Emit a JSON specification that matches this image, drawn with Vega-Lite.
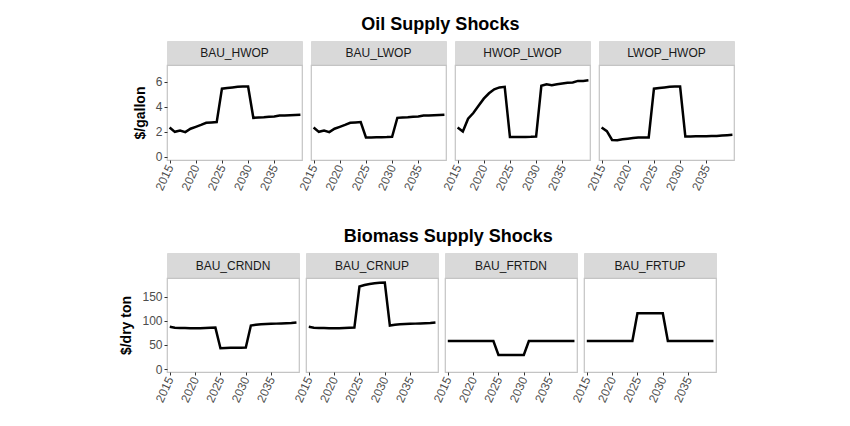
{
  "$schema": "https://vega.github.io/schema/vega-lite/v6.json",
  "background": "white",
  "padding": {"left": 119, "top": 15, "right": 5, "bottom": 5},
  "datasets": {
    "oil": [
      {"scenario": "BAU_HWOP", "year": 2015, "price": 2.35}, {"scenario": "BAU_HWOP", "year": 2016, "price": 2.0}, {"scenario": "BAU_HWOP", "year": 2017, "price": 2.1}, {"scenario": "BAU_HWOP", "year": 2018, "price": 1.98}, {"scenario": "BAU_HWOP", "year": 2019, "price": 2.25}, {"scenario": "BAU_HWOP", "year": 2020, "price": 2.4}, {"scenario": "BAU_HWOP", "year": 2021, "price": 2.55}, {"scenario": "BAU_HWOP", "year": 2022, "price": 2.72}, {"scenario": "BAU_HWOP", "year": 2023, "price": 2.75}, {"scenario": "BAU_HWOP", "year": 2024, "price": 2.78}, {"scenario": "BAU_HWOP", "year": 2025, "price": 5.45}, {"scenario": "BAU_HWOP", "year": 2026, "price": 5.5}, {"scenario": "BAU_HWOP", "year": 2027, "price": 5.55}, {"scenario": "BAU_HWOP", "year": 2028, "price": 5.6}, {"scenario": "BAU_HWOP", "year": 2029, "price": 5.62}, {"scenario": "BAU_HWOP", "year": 2030, "price": 5.62}, {"scenario": "BAU_HWOP", "year": 2031, "price": 3.12}, {"scenario": "BAU_HWOP", "year": 2032, "price": 3.15}, {"scenario": "BAU_HWOP", "year": 2033, "price": 3.17}, {"scenario": "BAU_HWOP", "year": 2034, "price": 3.2}, {"scenario": "BAU_HWOP", "year": 2035, "price": 3.22}, {"scenario": "BAU_HWOP", "year": 2036, "price": 3.3}, {"scenario": "BAU_HWOP", "year": 2037, "price": 3.3}, {"scenario": "BAU_HWOP", "year": 2038, "price": 3.32}, {"scenario": "BAU_HWOP", "year": 2039, "price": 3.34}, {"scenario": "BAU_HWOP", "year": 2040, "price": 3.36},
      {"scenario": "BAU_LWOP", "year": 2015, "price": 2.35}, {"scenario": "BAU_LWOP", "year": 2016, "price": 2.0}, {"scenario": "BAU_LWOP", "year": 2017, "price": 2.1}, {"scenario": "BAU_LWOP", "year": 2018, "price": 1.98}, {"scenario": "BAU_LWOP", "year": 2019, "price": 2.25}, {"scenario": "BAU_LWOP", "year": 2020, "price": 2.4}, {"scenario": "BAU_LWOP", "year": 2021, "price": 2.55}, {"scenario": "BAU_LWOP", "year": 2022, "price": 2.72}, {"scenario": "BAU_LWOP", "year": 2023, "price": 2.75}, {"scenario": "BAU_LWOP", "year": 2024, "price": 2.78}, {"scenario": "BAU_LWOP", "year": 2025, "price": 1.55}, {"scenario": "BAU_LWOP", "year": 2026, "price": 1.55}, {"scenario": "BAU_LWOP", "year": 2027, "price": 1.56}, {"scenario": "BAU_LWOP", "year": 2028, "price": 1.57}, {"scenario": "BAU_LWOP", "year": 2029, "price": 1.58}, {"scenario": "BAU_LWOP", "year": 2030, "price": 1.6}, {"scenario": "BAU_LWOP", "year": 2031, "price": 3.12}, {"scenario": "BAU_LWOP", "year": 2032, "price": 3.15}, {"scenario": "BAU_LWOP", "year": 2033, "price": 3.17}, {"scenario": "BAU_LWOP", "year": 2034, "price": 3.2}, {"scenario": "BAU_LWOP", "year": 2035, "price": 3.22}, {"scenario": "BAU_LWOP", "year": 2036, "price": 3.3}, {"scenario": "BAU_LWOP", "year": 2037, "price": 3.3}, {"scenario": "BAU_LWOP", "year": 2038, "price": 3.32}, {"scenario": "BAU_LWOP", "year": 2039, "price": 3.34}, {"scenario": "BAU_LWOP", "year": 2040, "price": 3.36},
      {"scenario": "HWOP_LWOP", "year": 2015, "price": 2.35}, {"scenario": "HWOP_LWOP", "year": 2016, "price": 2.03}, {"scenario": "HWOP_LWOP", "year": 2017, "price": 3.05}, {"scenario": "HWOP_LWOP", "year": 2018, "price": 3.5}, {"scenario": "HWOP_LWOP", "year": 2019, "price": 4.08}, {"scenario": "HWOP_LWOP", "year": 2020, "price": 4.65}, {"scenario": "HWOP_LWOP", "year": 2021, "price": 5.08}, {"scenario": "HWOP_LWOP", "year": 2022, "price": 5.4}, {"scenario": "HWOP_LWOP", "year": 2023, "price": 5.55}, {"scenario": "HWOP_LWOP", "year": 2024, "price": 5.6}, {"scenario": "HWOP_LWOP", "year": 2025, "price": 1.58}, {"scenario": "HWOP_LWOP", "year": 2026, "price": 1.58}, {"scenario": "HWOP_LWOP", "year": 2027, "price": 1.58}, {"scenario": "HWOP_LWOP", "year": 2028, "price": 1.59}, {"scenario": "HWOP_LWOP", "year": 2029, "price": 1.6}, {"scenario": "HWOP_LWOP", "year": 2030, "price": 1.62}, {"scenario": "HWOP_LWOP", "year": 2031, "price": 5.68}, {"scenario": "HWOP_LWOP", "year": 2032, "price": 5.8}, {"scenario": "HWOP_LWOP", "year": 2033, "price": 5.73}, {"scenario": "HWOP_LWOP", "year": 2034, "price": 5.8}, {"scenario": "HWOP_LWOP", "year": 2035, "price": 5.87}, {"scenario": "HWOP_LWOP", "year": 2036, "price": 5.93}, {"scenario": "HWOP_LWOP", "year": 2037, "price": 5.95}, {"scenario": "HWOP_LWOP", "year": 2038, "price": 6.07}, {"scenario": "HWOP_LWOP", "year": 2039, "price": 6.07}, {"scenario": "HWOP_LWOP", "year": 2040, "price": 6.12},
      {"scenario": "LWOP_HWOP", "year": 2015, "price": 2.35}, {"scenario": "LWOP_HWOP", "year": 2016, "price": 2.05}, {"scenario": "LWOP_HWOP", "year": 2017, "price": 1.35}, {"scenario": "LWOP_HWOP", "year": 2018, "price": 1.33}, {"scenario": "LWOP_HWOP", "year": 2019, "price": 1.4}, {"scenario": "LWOP_HWOP", "year": 2020, "price": 1.45}, {"scenario": "LWOP_HWOP", "year": 2021, "price": 1.5}, {"scenario": "LWOP_HWOP", "year": 2022, "price": 1.55}, {"scenario": "LWOP_HWOP", "year": 2023, "price": 1.55}, {"scenario": "LWOP_HWOP", "year": 2024, "price": 1.55}, {"scenario": "LWOP_HWOP", "year": 2025, "price": 5.45}, {"scenario": "LWOP_HWOP", "year": 2026, "price": 5.5}, {"scenario": "LWOP_HWOP", "year": 2027, "price": 5.55}, {"scenario": "LWOP_HWOP", "year": 2028, "price": 5.6}, {"scenario": "LWOP_HWOP", "year": 2029, "price": 5.62}, {"scenario": "LWOP_HWOP", "year": 2030, "price": 5.62}, {"scenario": "LWOP_HWOP", "year": 2031, "price": 1.62}, {"scenario": "LWOP_HWOP", "year": 2032, "price": 1.63}, {"scenario": "LWOP_HWOP", "year": 2033, "price": 1.64}, {"scenario": "LWOP_HWOP", "year": 2034, "price": 1.65}, {"scenario": "LWOP_HWOP", "year": 2035, "price": 1.65}, {"scenario": "LWOP_HWOP", "year": 2036, "price": 1.66}, {"scenario": "LWOP_HWOP", "year": 2037, "price": 1.67}, {"scenario": "LWOP_HWOP", "year": 2038, "price": 1.7}, {"scenario": "LWOP_HWOP", "year": 2039, "price": 1.73}, {"scenario": "LWOP_HWOP", "year": 2040, "price": 1.76}
    ],
    "bio": [
      {"scenario": "BAU_CRNDN", "year": 2015, "price": 87.5}, {"scenario": "BAU_CRNDN", "year": 2016, "price": 85.5}, {"scenario": "BAU_CRNDN", "year": 2017, "price": 85}, {"scenario": "BAU_CRNDN", "year": 2018, "price": 84.8}, {"scenario": "BAU_CRNDN", "year": 2019, "price": 84.5}, {"scenario": "BAU_CRNDN", "year": 2020, "price": 84.5}, {"scenario": "BAU_CRNDN", "year": 2021, "price": 84.5}, {"scenario": "BAU_CRNDN", "year": 2022, "price": 85}, {"scenario": "BAU_CRNDN", "year": 2023, "price": 85.5}, {"scenario": "BAU_CRNDN", "year": 2024, "price": 85.7}, {"scenario": "BAU_CRNDN", "year": 2025, "price": 43}, {"scenario": "BAU_CRNDN", "year": 2026, "price": 43.5}, {"scenario": "BAU_CRNDN", "year": 2027, "price": 43.8}, {"scenario": "BAU_CRNDN", "year": 2028, "price": 44}, {"scenario": "BAU_CRNDN", "year": 2029, "price": 44}, {"scenario": "BAU_CRNDN", "year": 2030, "price": 44.5}, {"scenario": "BAU_CRNDN", "year": 2031, "price": 90}, {"scenario": "BAU_CRNDN", "year": 2032, "price": 91.5}, {"scenario": "BAU_CRNDN", "year": 2033, "price": 92.5}, {"scenario": "BAU_CRNDN", "year": 2034, "price": 93}, {"scenario": "BAU_CRNDN", "year": 2035, "price": 93.5}, {"scenario": "BAU_CRNDN", "year": 2036, "price": 94}, {"scenario": "BAU_CRNDN", "year": 2037, "price": 94.5}, {"scenario": "BAU_CRNDN", "year": 2038, "price": 95}, {"scenario": "BAU_CRNDN", "year": 2039, "price": 95.5}, {"scenario": "BAU_CRNDN", "year": 2040, "price": 96.5},
      {"scenario": "BAU_CRNUP", "year": 2015, "price": 87.5}, {"scenario": "BAU_CRNUP", "year": 2016, "price": 85.5}, {"scenario": "BAU_CRNUP", "year": 2017, "price": 85}, {"scenario": "BAU_CRNUP", "year": 2018, "price": 84.8}, {"scenario": "BAU_CRNUP", "year": 2019, "price": 84.5}, {"scenario": "BAU_CRNUP", "year": 2020, "price": 84.5}, {"scenario": "BAU_CRNUP", "year": 2021, "price": 84.5}, {"scenario": "BAU_CRNUP", "year": 2022, "price": 85}, {"scenario": "BAU_CRNUP", "year": 2023, "price": 85.5}, {"scenario": "BAU_CRNUP", "year": 2024, "price": 85.7}, {"scenario": "BAU_CRNUP", "year": 2025, "price": 171}, {"scenario": "BAU_CRNUP", "year": 2026, "price": 174}, {"scenario": "BAU_CRNUP", "year": 2027, "price": 176}, {"scenario": "BAU_CRNUP", "year": 2028, "price": 177.5}, {"scenario": "BAU_CRNUP", "year": 2029, "price": 178.5}, {"scenario": "BAU_CRNUP", "year": 2030, "price": 179}, {"scenario": "BAU_CRNUP", "year": 2031, "price": 90}, {"scenario": "BAU_CRNUP", "year": 2032, "price": 91.5}, {"scenario": "BAU_CRNUP", "year": 2033, "price": 92.5}, {"scenario": "BAU_CRNUP", "year": 2034, "price": 93}, {"scenario": "BAU_CRNUP", "year": 2035, "price": 93.5}, {"scenario": "BAU_CRNUP", "year": 2036, "price": 94}, {"scenario": "BAU_CRNUP", "year": 2037, "price": 94.5}, {"scenario": "BAU_CRNUP", "year": 2038, "price": 95}, {"scenario": "BAU_CRNUP", "year": 2039, "price": 95.5}, {"scenario": "BAU_CRNUP", "year": 2040, "price": 96.5},
      {"scenario": "BAU_FRTDN", "year": 2015, "price": 58}, {"scenario": "BAU_FRTDN", "year": 2016, "price": 58}, {"scenario": "BAU_FRTDN", "year": 2017, "price": 58}, {"scenario": "BAU_FRTDN", "year": 2018, "price": 58}, {"scenario": "BAU_FRTDN", "year": 2019, "price": 58}, {"scenario": "BAU_FRTDN", "year": 2020, "price": 58}, {"scenario": "BAU_FRTDN", "year": 2021, "price": 58}, {"scenario": "BAU_FRTDN", "year": 2022, "price": 58}, {"scenario": "BAU_FRTDN", "year": 2023, "price": 58}, {"scenario": "BAU_FRTDN", "year": 2024, "price": 58}, {"scenario": "BAU_FRTDN", "year": 2025, "price": 29}, {"scenario": "BAU_FRTDN", "year": 2026, "price": 29}, {"scenario": "BAU_FRTDN", "year": 2027, "price": 29}, {"scenario": "BAU_FRTDN", "year": 2028, "price": 29}, {"scenario": "BAU_FRTDN", "year": 2029, "price": 29}, {"scenario": "BAU_FRTDN", "year": 2030, "price": 29}, {"scenario": "BAU_FRTDN", "year": 2031, "price": 58}, {"scenario": "BAU_FRTDN", "year": 2032, "price": 58}, {"scenario": "BAU_FRTDN", "year": 2033, "price": 58}, {"scenario": "BAU_FRTDN", "year": 2034, "price": 58}, {"scenario": "BAU_FRTDN", "year": 2035, "price": 58}, {"scenario": "BAU_FRTDN", "year": 2036, "price": 58}, {"scenario": "BAU_FRTDN", "year": 2037, "price": 58}, {"scenario": "BAU_FRTDN", "year": 2038, "price": 58}, {"scenario": "BAU_FRTDN", "year": 2039, "price": 58}, {"scenario": "BAU_FRTDN", "year": 2040, "price": 58},
      {"scenario": "BAU_FRTUP", "year": 2015, "price": 58}, {"scenario": "BAU_FRTUP", "year": 2016, "price": 58}, {"scenario": "BAU_FRTUP", "year": 2017, "price": 58}, {"scenario": "BAU_FRTUP", "year": 2018, "price": 58}, {"scenario": "BAU_FRTUP", "year": 2019, "price": 58}, {"scenario": "BAU_FRTUP", "year": 2020, "price": 58}, {"scenario": "BAU_FRTUP", "year": 2021, "price": 58}, {"scenario": "BAU_FRTUP", "year": 2022, "price": 58}, {"scenario": "BAU_FRTUP", "year": 2023, "price": 58}, {"scenario": "BAU_FRTUP", "year": 2024, "price": 58}, {"scenario": "BAU_FRTUP", "year": 2025, "price": 115.5}, {"scenario": "BAU_FRTUP", "year": 2026, "price": 115.5}, {"scenario": "BAU_FRTUP", "year": 2027, "price": 115.5}, {"scenario": "BAU_FRTUP", "year": 2028, "price": 115.5}, {"scenario": "BAU_FRTUP", "year": 2029, "price": 115.5}, {"scenario": "BAU_FRTUP", "year": 2030, "price": 115.5}, {"scenario": "BAU_FRTUP", "year": 2031, "price": 58}, {"scenario": "BAU_FRTUP", "year": 2032, "price": 58}, {"scenario": "BAU_FRTUP", "year": 2033, "price": 58}, {"scenario": "BAU_FRTUP", "year": 2034, "price": 58}, {"scenario": "BAU_FRTUP", "year": 2035, "price": 58}, {"scenario": "BAU_FRTUP", "year": 2036, "price": 58}, {"scenario": "BAU_FRTUP", "year": 2037, "price": 58}, {"scenario": "BAU_FRTUP", "year": 2038, "price": 58}, {"scenario": "BAU_FRTUP", "year": 2039, "price": 58}, {"scenario": "BAU_FRTUP", "year": 2040, "price": 58}
    ]
  },
  "columns": 1,
  "spacing": 34,
  "align": "none",
  "concat": [
    {
      "title": {"text": "Oil Supply Shocks", "frame": "bounds", "dx": 5},
      "spacing": -11,
      "hconcat": [
        {"bounds": "flush", "spacing": 0, "vconcat": [
          {"data": {"name": "oil"}, "transform": [{"filter": "datum.scenario == 'BAU_HWOP'"}, {"aggregate": [{"op": "count", "as": "n"}], "groupby": ["scenario"]}], "width": 135, "height": 24, "view": {"fill": "#D9D9D9", "stroke": "#D9D9D9"}, "mark": {"type": "text", "fontSize": 12, "color": "#1A1A1A"}, "encoding": {"text": {"field": "scenario"}}},
          {"data": {"name": "oil"}, "transform": [{"filter": "datum.scenario == 'BAU_HWOP'"}], "width": 135, "height": 95, "mark": {"type": "line", "color": "black", "strokeWidth": 2.5},
           "encoding": {
             "x": {"field": "year", "type": "quantitative", "scale": {"domain": [2014.5, 2040.3], "nice": false, "zero": false}, "axis": {"values": [2015, 2020, 2025, 2030, 2035], "format": "d", "title": null, "labelAngle": -65, "labelAlign": "right", "labelBaseline": "middle"}},
             "y": {"field": "price", "type": "quantitative", "scale": {"domain": [-0.25, 7.34], "nice": false, "zero": false}, "axis": {"values": [0, 2, 4, 6], "title": "$/gallon", "titlePadding": 8}}
           }}
        ]},
        {"bounds": "flush", "spacing": 0, "vconcat": [
          {"data": {"name": "oil"}, "transform": [{"filter": "datum.scenario == 'BAU_LWOP'"}, {"aggregate": [{"op": "count", "as": "n"}], "groupby": ["scenario"]}], "width": 135, "height": 24, "view": {"fill": "#D9D9D9", "stroke": "#D9D9D9"}, "mark": {"type": "text", "fontSize": 12, "color": "#1A1A1A"}, "encoding": {"text": {"field": "scenario"}}},
          {"data": {"name": "oil"}, "transform": [{"filter": "datum.scenario == 'BAU_LWOP'"}], "width": 135, "height": 95, "mark": {"type": "line", "color": "black", "strokeWidth": 2.5},
           "encoding": {
             "x": {"field": "year", "type": "quantitative", "scale": {"domain": [2014.5, 2040.3], "nice": false, "zero": false}, "axis": {"values": [2015, 2020, 2025, 2030, 2035], "format": "d", "title": null, "labelAngle": -65, "labelAlign": "right", "labelBaseline": "middle"}},
             "y": {"field": "price", "type": "quantitative", "scale": {"domain": [-0.25, 7.34], "nice": false, "zero": false}, "axis": null}
           }}
        ]},
        {"bounds": "flush", "spacing": 0, "vconcat": [
          {"data": {"name": "oil"}, "transform": [{"filter": "datum.scenario == 'HWOP_LWOP'"}, {"aggregate": [{"op": "count", "as": "n"}], "groupby": ["scenario"]}], "width": 135, "height": 24, "view": {"fill": "#D9D9D9", "stroke": "#D9D9D9"}, "mark": {"type": "text", "fontSize": 12, "color": "#1A1A1A"}, "encoding": {"text": {"field": "scenario"}}},
          {"data": {"name": "oil"}, "transform": [{"filter": "datum.scenario == 'HWOP_LWOP'"}], "width": 135, "height": 95, "mark": {"type": "line", "color": "black", "strokeWidth": 2.5},
           "encoding": {
             "x": {"field": "year", "type": "quantitative", "scale": {"domain": [2014.5, 2040.3], "nice": false, "zero": false}, "axis": {"values": [2015, 2020, 2025, 2030, 2035], "format": "d", "title": null, "labelAngle": -65, "labelAlign": "right", "labelBaseline": "middle"}},
             "y": {"field": "price", "type": "quantitative", "scale": {"domain": [-0.25, 7.34], "nice": false, "zero": false}, "axis": null}
           }}
        ]},
        {"bounds": "flush", "spacing": 0, "vconcat": [
          {"data": {"name": "oil"}, "transform": [{"filter": "datum.scenario == 'LWOP_HWOP'"}, {"aggregate": [{"op": "count", "as": "n"}], "groupby": ["scenario"]}], "width": 135, "height": 24, "view": {"fill": "#D9D9D9", "stroke": "#D9D9D9"}, "mark": {"type": "text", "fontSize": 12, "color": "#1A1A1A"}, "encoding": {"text": {"field": "scenario"}}},
          {"data": {"name": "oil"}, "transform": [{"filter": "datum.scenario == 'LWOP_HWOP'"}], "width": 135, "height": 95, "mark": {"type": "line", "color": "black", "strokeWidth": 2.5},
           "encoding": {
             "x": {"field": "year", "type": "quantitative", "scale": {"domain": [2014.5, 2040.3], "nice": false, "zero": false}, "axis": {"values": [2015, 2020, 2025, 2030, 2035], "format": "d", "title": null, "labelAngle": -65, "labelAlign": "right", "labelBaseline": "middle"}},
             "y": {"field": "price", "type": "quantitative", "scale": {"domain": [-0.25, 7.34], "nice": false, "zero": false}, "axis": null}
           }}
        ]}
      ]
    },
    {
      "title": {"text": "Biomass Supply Shocks", "frame": "bounds", "dx": 29},
      "spacing": -12,
      "hconcat": [
        {"bounds": "flush", "spacing": 0, "vconcat": [
          {"data": {"name": "bio"}, "transform": [{"filter": "datum.scenario == 'BAU_CRNDN'"}, {"aggregate": [{"op": "count", "as": "n"}], "groupby": ["scenario"]}], "width": 132, "height": 25, "view": {"fill": "#D9D9D9", "stroke": "#D9D9D9"}, "mark": {"type": "text", "fontSize": 12, "color": "#1A1A1A"}, "encoding": {"text": {"field": "scenario"}}},
          {"data": {"name": "bio"}, "transform": [{"filter": "datum.scenario == 'BAU_CRNDN'"}], "width": 132, "height": 94, "mark": {"type": "line", "color": "black", "strokeWidth": 2.5},
           "encoding": {
             "x": {"field": "year", "type": "quantitative", "scale": {"domain": [2014.45, 2040.5], "nice": false, "zero": false}, "axis": {"values": [2015, 2020, 2025, 2030, 2035], "format": "d", "title": null, "labelAngle": -65, "labelAlign": "right", "labelBaseline": "middle"}},
             "y": {"field": "price", "type": "quantitative", "scale": {"domain": [-6.2, 188.5], "nice": false, "zero": false}, "axis": {"values": [0, 50, 100, 150], "title": "$/dry ton", "titlePadding": 8}}
           }}
        ]},
        {"bounds": "flush", "spacing": 0, "vconcat": [
          {"data": {"name": "bio"}, "transform": [{"filter": "datum.scenario == 'BAU_CRNUP'"}, {"aggregate": [{"op": "count", "as": "n"}], "groupby": ["scenario"]}], "width": 132, "height": 25, "view": {"fill": "#D9D9D9", "stroke": "#D9D9D9"}, "mark": {"type": "text", "fontSize": 12, "color": "#1A1A1A"}, "encoding": {"text": {"field": "scenario"}}},
          {"data": {"name": "bio"}, "transform": [{"filter": "datum.scenario == 'BAU_CRNUP'"}], "width": 132, "height": 94, "mark": {"type": "line", "color": "black", "strokeWidth": 2.5},
           "encoding": {
             "x": {"field": "year", "type": "quantitative", "scale": {"domain": [2014.45, 2040.5], "nice": false, "zero": false}, "axis": {"values": [2015, 2020, 2025, 2030, 2035], "format": "d", "title": null, "labelAngle": -65, "labelAlign": "right", "labelBaseline": "middle"}},
             "y": {"field": "price", "type": "quantitative", "scale": {"domain": [-6.2, 188.5], "nice": false, "zero": false}, "axis": null}
           }}
        ]},
        {"bounds": "flush", "spacing": 0, "vconcat": [
          {"data": {"name": "bio"}, "transform": [{"filter": "datum.scenario == 'BAU_FRTDN'"}, {"aggregate": [{"op": "count", "as": "n"}], "groupby": ["scenario"]}], "width": 132, "height": 25, "view": {"fill": "#D9D9D9", "stroke": "#D9D9D9"}, "mark": {"type": "text", "fontSize": 12, "color": "#1A1A1A"}, "encoding": {"text": {"field": "scenario"}}},
          {"data": {"name": "bio"}, "transform": [{"filter": "datum.scenario == 'BAU_FRTDN'"}], "width": 132, "height": 94, "mark": {"type": "line", "color": "black", "strokeWidth": 2.5},
           "encoding": {
             "x": {"field": "year", "type": "quantitative", "scale": {"domain": [2014.45, 2040.5], "nice": false, "zero": false}, "axis": {"values": [2015, 2020, 2025, 2030, 2035], "format": "d", "title": null, "labelAngle": -65, "labelAlign": "right", "labelBaseline": "middle"}},
             "y": {"field": "price", "type": "quantitative", "scale": {"domain": [-6.2, 188.5], "nice": false, "zero": false}, "axis": null}
           }}
        ]},
        {"bounds": "flush", "spacing": 0, "vconcat": [
          {"data": {"name": "bio"}, "transform": [{"filter": "datum.scenario == 'BAU_FRTUP'"}, {"aggregate": [{"op": "count", "as": "n"}], "groupby": ["scenario"]}], "width": 132, "height": 25, "view": {"fill": "#D9D9D9", "stroke": "#D9D9D9"}, "mark": {"type": "text", "fontSize": 12, "color": "#1A1A1A"}, "encoding": {"text": {"field": "scenario"}}},
          {"data": {"name": "bio"}, "transform": [{"filter": "datum.scenario == 'BAU_FRTUP'"}], "width": 132, "height": 94, "mark": {"type": "line", "color": "black", "strokeWidth": 2.5},
           "encoding": {
             "x": {"field": "year", "type": "quantitative", "scale": {"domain": [2014.45, 2040.5], "nice": false, "zero": false}, "axis": {"values": [2015, 2020, 2025, 2030, 2035], "format": "d", "title": null, "labelAngle": -65, "labelAlign": "right", "labelBaseline": "middle"}},
             "y": {"field": "price", "type": "quantitative", "scale": {"domain": [-6.2, 188.5], "nice": false, "zero": false}, "axis": null}
           }}
        ]}
      ]
    }
  ],
  "config": {
    "font": "Liberation Sans",
    "view": {"stroke": "#C4C4C4", "strokeWidth": 1.2},
    "axis": {"grid": false, "domain": false, "labelFontSize": 12, "labelColor": "#4D4D4D", "tickColor": "#333333", "tickSize": 3, "labelPadding": 2, "titleFontSize": 14, "titleFontWeight": "bold", "titleColor": "black", "titlePadding": 4},
    "title": {"fontSize": 18, "fontWeight": "bold", "color": "black", "anchor": "middle", "offset": 7}
  }
}
